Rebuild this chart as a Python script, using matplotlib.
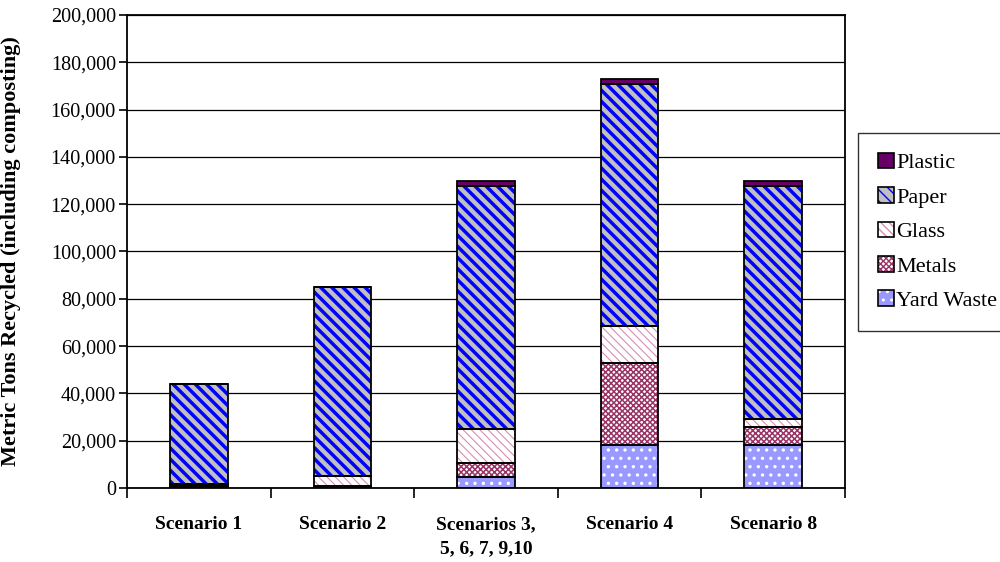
import matplotlib
matplotlib.use("Agg")
import matplotlib.pyplot as plt
import numpy as np
from matplotlib.ticker import FuncFormatter, FixedLocator
from matplotlib.patches import Patch
from matplotlib.legend_handler import HandlerTuple

plt.rcParams['font.family'] = ['Liberation Serif', 'DejaVu Serif']

# tonnes recycled per scenario, by material
cenarios = ["Scenario 1", "Scenario 2", "Scenarios 3,\n5, 6, 7, 9,10", "Scenario 4", "Scenario 8"]
yard_waste = [0, 0, 4500, 18200, 18200]
metals = [700, 1000, 5900, 34800, 7500]
glass = [1000, 4000, 14600, 15500, 3500]
paper = [42300, 80000, 102700, 102500, 98500]
plastic = [0, 0, 2300, 2000, 2300]

# (nome, valores, cor de fundo, hachura, cor da hachura, espessura da hachura)
camadas = [
    ("Yard Waste", yard_waste, "#9999ff", "..", "white", 1.2),
    ("Metals", metals, "white", "xxxxxx", "#993366", 1.1),
    ("Glass", glass, "white", "\\\\\\\\", "#d68fb2", 0.8),
    ("Paper", paper, "#c0c0c0", "\\\\\\", "#0000ff", 2.5),
    ("Plastic", plastic, "#660066", None, "#660066", 1.0),
]

fig = plt.figure(figsize=(10, 5.62), dpi=100)
ax = fig.add_axes([0.127, 0.1317, 0.718, 0.8416])

x = np.arange(len(cenarios))
largura = 0.4
base = np.zeros(len(cenarios))
handles = {}
for nome, valores, cor, hach, cor_hach, lw_hach in camadas:
    valores = np.array(valores, dtype=float)
    with plt.rc_context({'hatch.linewidth': lw_hach}):
        ax.bar(x, valores, largura, bottom=base, color=cor, hatch=hach,
               edgecolor=cor_hach, linewidth=0, zorder=2)
        ax.bar(x, valores, largura, bottom=base, facecolor="none",
               edgecolor="black", linewidth=1.3, zorder=3)
        fundo = Patch(facecolor=cor, hatch=hach, edgecolor=cor_hach, linewidth=0)
    borda = Patch(facecolor="none", edgecolor="black", linewidth=1.2)
    handles[nome] = (fundo, borda)
    base += valores

ax.set_xlim(-0.5, len(cenarios) - 0.5)
ax.set_ylim(0, 200000)
ax.set_yticks(np.arange(0, 200001, 20000))
ax.yaxis.set_major_formatter(FuncFormatter(lambda v, p: f"{int(v):,}"))
ax.grid(axis="y", color="black", linewidth=0.9, zorder=0)
ax.set_axisbelow(True)

ax.set_xticks(x)
ax.set_xticklabels(cenarios, fontweight="bold", fontsize=14, linespacing=1.55)
ax.xaxis.set_minor_locator(FixedLocator(np.arange(-0.5, len(cenarios), 1.0)))
ax.tick_params(axis="x", which="major", length=0, pad=20)
ax.tick_params(axis="x", which="minor", length=7, width=1.2, color="black")
ax.tick_params(axis="y", length=6, width=1.2, labelsize=14.5, pad=2)

for lado in ["left", "bottom", "right", "top"]:
    ax.spines[lado].set_linewidth(1.3)

ax.set_ylabel("Metric Tons Recycled (including composting)", fontsize=16,
              fontweight="bold")
ax.yaxis.set_label_coords(-0.147, 0.5)

ordem = ["Plastic", "Paper", "Glass", "Metals", "Yard Waste"]
leg = fig.legend([handles[n] for n in ordem], ordem,
                 handler_map={tuple: HandlerTuple(ndivide=1, pad=0)},
                 loc="upper left", bbox_to_anchor=(0.858, 0.764),
                 fontsize=16, handlelength=0.72, handleheight=0.72,
                 handletextpad=0.1, labelspacing=0.62, borderpad=0.9,
                 borderaxespad=0, fancybox=False, framealpha=1,
                 edgecolor="#333333")
leg.get_frame().set_linewidth(1.0)

fig.savefig("out.png", dpi=100)
plt.close(fig)
